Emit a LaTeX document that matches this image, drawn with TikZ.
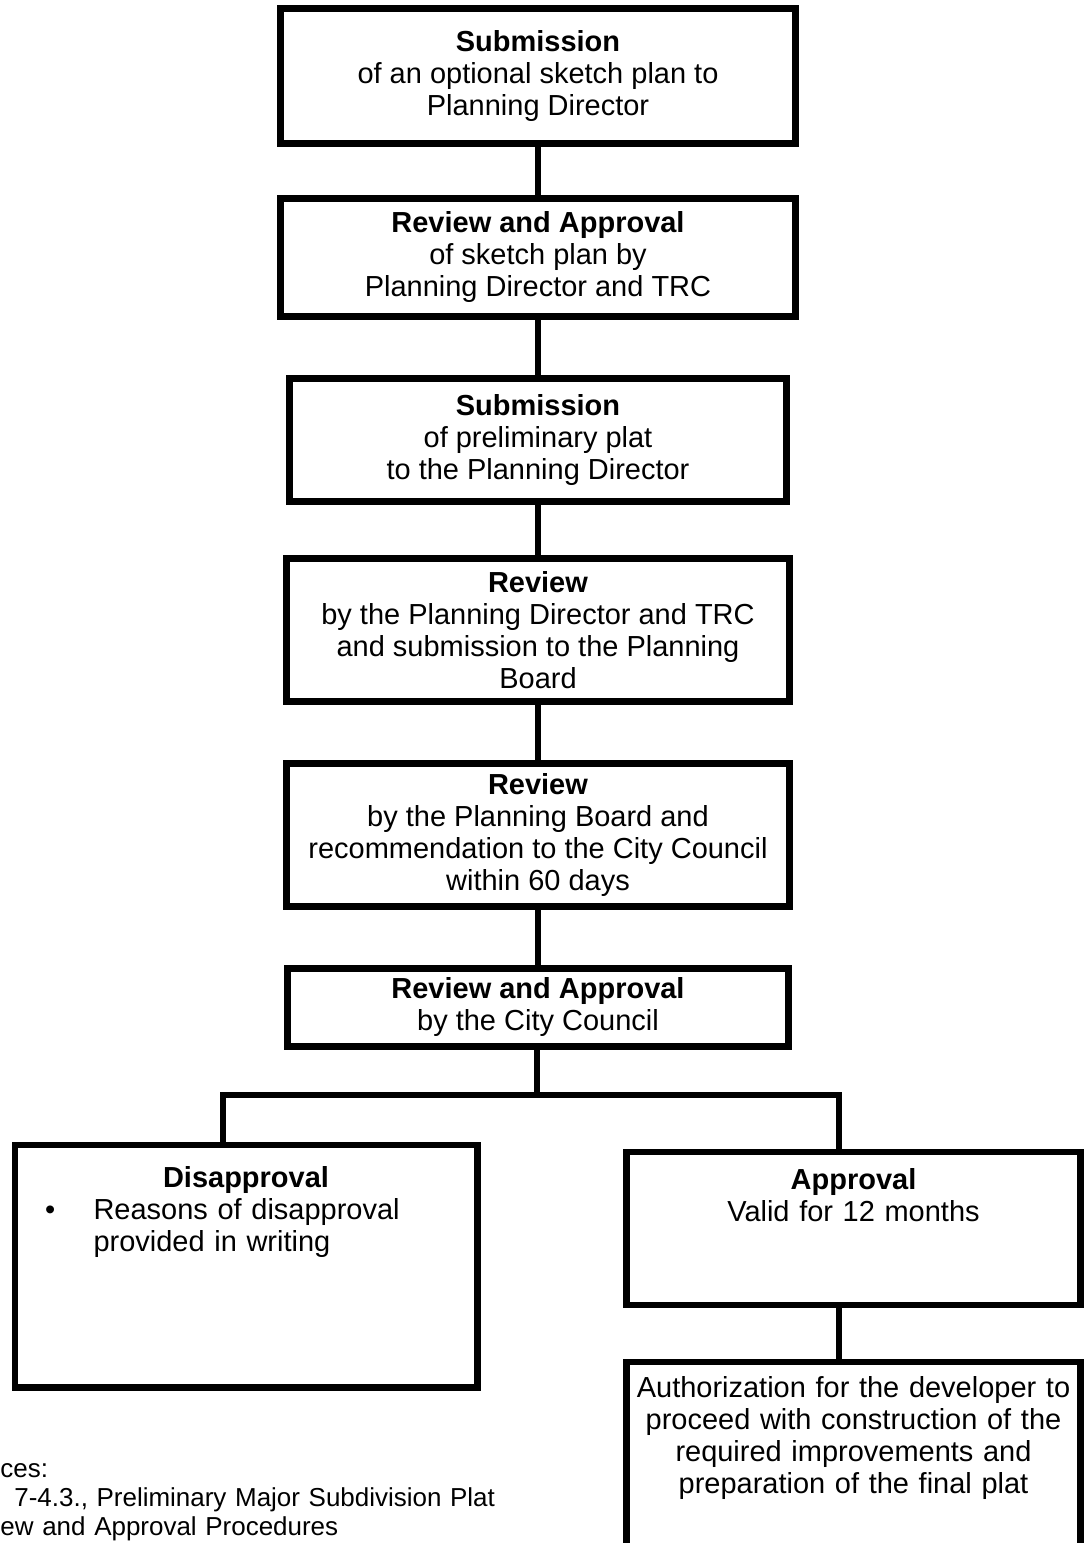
\documentclass[tikz,border=0pt]{standalone}
\usepackage{fontspec}
\setmainfont{Liberation Sans}
\usetikzlibrary{positioning}
\tikzstyle{block} = [rectangle, draw, line width=3pt, align=center, inner sep=0pt,
font=\fontsize{12.5}{13.8}\selectfont]
\tikzstyle{line} = [draw, line width=3pt]
\tikzstyle{note} = [align=left, inner sep=0pt, text width=240pt,
font=\fontsize{11.2}{12.5}\selectfont]

\begin{document}
\begin{tikzpicture}[x=0.4313pt, y=-0.4313pt]
        \useasboundingbox (0,0) rectangle (1085,1543);

        % main column
        \node [block, minimum width=222.1pt, minimum height=58.2pt] at (538,76) (sketch) {\textbf{Submission}\\ of an optional sketch plan to\\ Planning Director};
        \node [block, minimum width=222.1pt, minimum height=50.9pt, below=20.7pt of sketch] (sketchrev) {\textbf{Review and Approval}\\ of sketch plan by\\ Planning Director and TRC};
        \node [block, minimum width=214.4pt, minimum height=53pt, below=23.7pt of sketchrev] (prelim) {\textbf{Submission}\\ of preliminary plat\\ to the Planning Director};
        \node [block, minimum width=216.9pt, minimum height=61.7pt, below=21.6pt of prelim] (prelimrev) {\textbf{Review}\\ by the Planning Director and TRC\\ and submission to the Planning\\ Board};
        \node [block, minimum width=216.9pt, minimum height=61.7pt, below=23.7pt of prelimrev] (boardrev) {\textbf{Review}\\ by the Planning Board and\\ recommendation to the City Council\\ within 60 days};
        \node [block, minimum width=215.7pt, minimum height=33.6pt, below=23.7pt of boardrev] (councilrev) {\textbf{Review and Approval}\\ by the City Council};

        % outcomes
        \node [block, anchor=north west, align=left, text width=199.3pt, text height=18.4pt, text depth=86pt] at (11.5,1141.5) (disapp) {{\centering\textbf{Disapproval}\par}\hspace*{13pt}\makebox[20.9pt][l]{\textbullet}Reasons of disapproval\\ \hspace*{33.9pt}provided in writing};
        \node [block, anchor=north, text width=195.8pt, text height=16.2pt, text depth=49.8pt] at (853.5,1148.5) (appr) {\textbf{Approval}\\ Valid for 12 months};
        \node [block, anchor=north, text width=195.8pt, text height=15.3pt, text depth=73.8pt] at (853.5,1358.5) (auth) {Authorization for the developer to\\ proceed with construction of the\\ required improvements and\\ preparation of the final plat};

        \node [note, anchor=north west] at (0,1463) (notes) {ces:\\ \hspace*{6pt}7-4.3., Preliminary Major Subdivision Plat\\ ew and Approval Procedures};

        \coordinate (split) at (537,1095);
        \coordinate (lsplit) at (223,1095);
        \coordinate (rsplit) at (839,1095);

        \path [line] (sketch) -- (sketchrev);
        \path [line] (sketchrev) -- (prelim);
        \path [line] (prelim) -- (prelimrev);
        \path [line] (prelimrev) -- (boardrev);
        \path [line] (boardrev) -- (councilrev);
        \path [line] (councilrev.south -| split) -- (split);
        \path [line] (disapp.north -| lsplit) |- (rsplit) -- (appr.north -| rsplit);
        \path [line] (appr.south -| rsplit) -- (auth.north -| rsplit);
      \end{tikzpicture}
\end{document}
